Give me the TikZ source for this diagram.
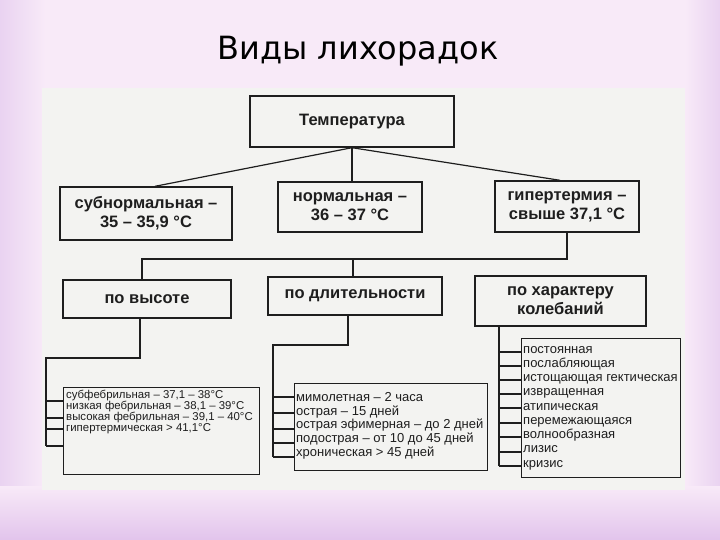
\documentclass[tikz,border=0pt]{standalone}
\usepackage{fontspec}
\setmainfont{Liberation Sans}
\newfontfamily\titlefont{DejaVu Sans}
\usetikzlibrary{calc}
\definecolor{bgpink}{RGB}{248,234,248}
\definecolor{bglav}{RGB}{226,196,236}
\definecolor{panel}{RGB}{243,243,241}
\definecolor{ink}{RGB}{30,30,30}
\begin{document}
\begin{tikzpicture}[x=1pt,y=-1pt,
  mainbox/.style={draw=ink, line width=1.4pt, fill=panel, text=ink, align=center, inner sep=0pt,
    font=\bfseries\fontsize{16.5}{19}\selectfont},
  listbox/.style={draw=ink, line width=1.2pt, fill=panel, inner sep=0pt, anchor=north west},
  listtext/.style={text=ink, align=left, anchor=north west, inner sep=0pt},
  conn/.style={draw=ink, line width=1.2pt}]
\useasboundingbox (0,0) rectangle (720,540);
% background
\fill[bgpink] (0,0) rectangle (720,540);
\shade[left color=bglav!75, right color=bgpink] (0,0) rectangle (45,540);
\shade[left color=bgpink, right color=bglav!75] (685,0) rectangle (720,540);
\shade[top color=bgpink, bottom color=bglav] (0,486) rectangle (720,540);
\fill[panel] (42,88) rectangle (685,490);
% title
\node[font=\titlefont\fontsize{32}{36}\selectfont, anchor=base, text=black] (title) at (358,60) {Виды лихорадок};
% main boxes
\node[mainbox, minimum width=204, minimum height=51] (temp) at (352,121.5) {Температура};
\node[mainbox, minimum width=172, minimum height=53] (sub) at (146,213.5) {субнормальная –\\35 – 35,9 °C};
\node[mainbox, minimum width=144, minimum height=50] (norm) at (350,207) {нормальная –\\36 – 37 °C};
\node[mainbox, minimum width=144, minimum height=51] (hyp) at (567,206.5) {гипертермия –\\свыше 37,1 °C};
\node[mainbox, minimum width=168, minimum height=38] (vys) at (147,299) {по высоте};
\node[mainbox, minimum width=174, minimum height=38] (dlit) at (355,296) {по длительности};
\node[mainbox, minimum width=171, minimum height=50] (char) at (560.5,301) {по характеру\\колебаний};
% list boxes
\node[listbox, minimum width=196, minimum height=87] (L1) at (63,387) {};
\node[listtext, font=\fontsize{11.4}{11}\selectfont] (T1) at (66,390)
  {субфебрильная – 37,1 – 38°C\\низкая фебрильная – 38,1 – 39°C\\высокая фебрильная – 39,1 – 40°C\\гипертермическая > 41,1°C};
\node[listbox, minimum width=193, minimum height=87] (L2) at (294,383) {};
\node[listtext, font=\fontsize{13}{13.8}\selectfont] (T2) at (296,392)
  {мимолетная – 2 часа\\острая – 15 дней\\острая эфимерная – до 2 дней\\подострая – от 10 до 45 дней\\хроническая > 45 дней};
\node[listbox, minimum width=159, minimum height=139] (L3) at (521,338) {};
\node[listtext, font=\fontsize{13}{14.25}\selectfont] (T3) at (523,346)
  {постоянная\\послабляющая\\истощающая гектическая\\извращенная\\атипическая\\перемежающаяся\\волнообразная\\лизис\\кризис};
% top connectors
\draw[conn] (temp.south) -- ([xshift=9]sub.north);
\draw[conn] (temp.south) -- (temp.south |- norm.north);
\draw[conn] (temp.south) -- ([xshift=-7]hyp.north);
\draw[conn] (hyp.south) -- (hyp.south |- 0,259) -| ([xshift=-5]vys.north);
\draw[conn] ([xshift=-2]dlit.north |- 0,259) -- ([xshift=-2]dlit.north);
% left rake
\coordinate (lc) at (46,358);
\draw[conn] ([xshift=-7]vys.south) |- (lc) -- (46,446);
\foreach \y in {401,418,429,446} \draw[conn] (46,\y) -- (L1.west |- 0,\y);
% middle rake
\coordinate (mc) at (273,345);
\draw[conn] ([xshift=-7]dlit.south) |- (mc) -- (273,457);
\foreach \y in {397,413,429,443,457} \draw[conn] (273,\y) -- (L2.west |- 0,\y);
% right rake
\draw[conn] (char.south -| 499,0) -- (499,466);
\foreach \y in {352,366,380,394,408,423,437,452,466} \draw[conn] (499,\y) -- (L3.west |- 0,\y);
\end{tikzpicture}
\end{document}
